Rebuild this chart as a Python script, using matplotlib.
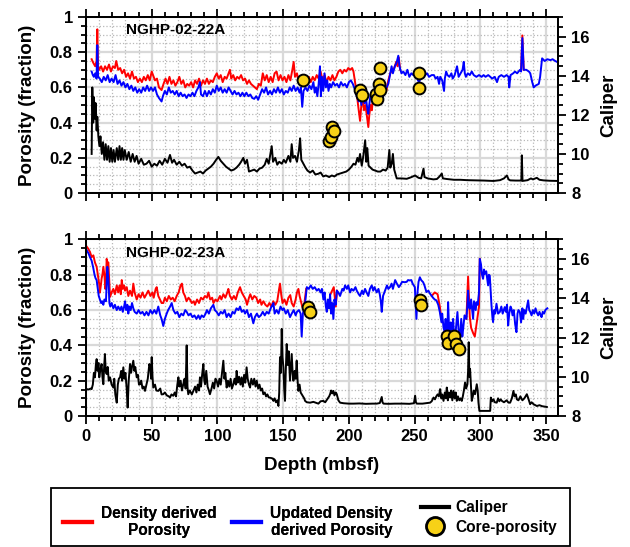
import numpy as np
import matplotlib
matplotlib.use('Agg')
from matplotlib import pyplot as plt
from matplotlib.ticker import MultipleLocator, FuncFormatter
from matplotlib.lines import Line2D
from matplotlib.patches import Rectangle

plt.rcParams['font.family'] = ['Liberation Sans', 'DejaVu Sans']
plt.rcParams['font.weight'] = 'bold'
plt.rcParams['axes.labelweight'] = 'bold'

nan = np.nan

# ---------------- NGHP-02-22A : (depth mbsf, value) ----------------
den_22 = [(4.3, 0.76), (5.5, 0.74), (7, 0.72), (8, 0.75), (8.6, 0.93), (9.2, 0.72), (10, 0.70),
          (11.5, 0.72), (13, 0.69), (14.5, 0.72), (16, 0.70), (17.5, 0.73), (19, 0.69), (20.5, 0.72),
          (22, 0.71), (23, 0.75), (24.5, 0.70), (26, 0.71), (27.5, 0.68), (29, 0.70), (30.5, 0.66),
          (32, 0.68), (33.5, 0.65), (35, 0.69), (36.5, 0.65), (38, 0.66), (39.5, 0.63), (41, 0.65),
          (42.5, 0.63), (44, 0.66), (45.5, 0.64), (47, 0.67), (48.5, 0.64), (50, 0.69), (51, 0.67),
          (52.5, 0.64), (54, 0.65), (55.5, 0.60), (57.5, 0.585), (59, 0.62), (60.5, 0.65), (62, 0.62),
          (63.5, 0.66), (65, 0.62), (66.5, 0.64), (68, 0.61), (69.5, 0.63), (71, 0.66), (72.5, 0.62),
          (74, 0.64), (75.5, 0.60), (77, 0.62), (78.5, 0.61), (80, 0.63), (81.5, 0.60), (83, 0.64),
          (84.5, 0.62), (86, 0.65), (87.5, 0.61), (89, 0.64), (90.5, 0.62), (92, 0.65), (93.5, 0.62),
          (95, 0.64), (96.5, 0.63), (98, 0.66), (99.5, 0.68), (101, 0.65), (102.5, 0.67), (104, 0.63),
          (105.5, 0.66), (107, 0.65), (108.5, 0.68), (109.5, 0.70), (110.5, 0.65), (112, 0.67),
          (113.5, 0.64), (115, 0.66), (116.5, 0.65), (118, 0.67), (119.5, 0.64), (121, 0.65),
          (122.5, 0.62), (124, 0.64), (125.5, 0.62), (127, 0.61), (128.5, 0.60), (130, 0.59),
          (131.5, 0.62), (133, 0.61), (134.5, 0.68), (136, 0.64), (137.5, 0.67), (139, 0.63),
          (140.5, 0.66), (142, 0.63), (143.5, 0.68), (145, 0.69), (146.5, 0.64), (148, 0.67),
          (149.5, 0.64), (151, 0.66), (152.5, 0.63), (154, 0.67), (155.5, 0.64), (157, 0.70),
          (158, 0.745), (159, 0.66), (160.5, 0.68), (162, 0.63), (163.5, 0.66), (165, 0.62),
          (166.5, 0.67), (168, 0.64), (169.5, 0.66), (171, 0.63), (172.5, 0.66), (174, 0.64),
          (175.5, 0.67), (177, 0.65), (178.5, 0.69), (180, 0.64), (181.5, 0.67), (183, 0.63),
          (184.5, 0.66), (186, 0.64), (187.5, 0.67), (189, 0.64), (190.5, 0.66), (192, 0.69),
          (193.5, 0.70), (195, 0.68), (196.5, 0.70), (198, 0.69), (199.5, 0.71), (201, 0.70),
          (202.5, 0.71), (203.5, 0.69), (204.5, 0.64), (206, 0.565), (207, 0.50), (208.5, 0.41),
          (209.5, 0.50), (210.5, 0.53), (211.5, 0.47), (212.5, 0.50), (213.5, 0.45), (214.8, 0.375),
          (215.5, 0.44), (216.5, 0.50), (217.5, 0.47), (218.5, 0.56), (219.5, 0.58), (221, 0.57),
          (222, 0.60), (223, 0.55), (224, 0.58), (225, 0.52), (226, 0.56), (227, 0.60), (228.5, 0.58),
          (230, 0.64), (231.5, 0.68), (233, 0.70), (234.5, 0.71), (236, 0.745), (237, 0.72),
          (238, 0.77), (239, 0.70), (240, nan), (331, 0.70), (332, 0.895), (333, 0.70)]

upd_22 = [(4.3, 0.69), (5.2, 0.67), (6, 0.66), (7, 0.68), (8, 0.65), (8.6, 0.84), (9.2, 0.66),
          (10.5, 0.65), (12, 0.63), (13.5, 0.66), (15, 0.64), (16.5, 0.67), (18, 0.63), (19.5, 0.65),
          (21, 0.63), (22.5, 0.67), (24, 0.62), (25.5, 0.64), (27, 0.61), (28.5, 0.63), (30, 0.60),
          (31.5, 0.62), (33, 0.59), (34.5, 0.61), (36, 0.58), (37.5, 0.60), (39, 0.57), (40.5, 0.59),
          (42, 0.57), (43.5, 0.60), (45, 0.58), (46.5, 0.61), (48, 0.58), (49.5, 0.60), (51, 0.58),
          (52.5, 0.60), (54, 0.56), (55.5, 0.54), (57.5, 0.52), (58.5, 0.55), (60, 0.58), (61.5, 0.56),
          (63, 0.60), (64.5, 0.57), (66, 0.58), (67.5, 0.56), (69, 0.58), (70.5, 0.55), (72, 0.57),
          (73.5, 0.55), (75, 0.56), (76.5, 0.54), (78, 0.56), (79.5, 0.55), (81, 0.57), (82.5, 0.55),
          (84, 0.58), (85.5, 0.60), (86.7, 0.63), (87.5, 0.56), (89, 0.55), (90.5, 0.58), (92, 0.55),
          (93.5, 0.58), (95, 0.56), (96.5, 0.59), (98, 0.57), (99.5, 0.61), (101, 0.58), (102.5, 0.60),
          (104, 0.57), (105.5, 0.59), (107, 0.57), (108.5, 0.60), (110, 0.58), (111.5, 0.56),
          (113, 0.58), (114.5, 0.56), (116, 0.57), (117.5, 0.55), (119, 0.57), (120.5, 0.55),
          (122, 0.57), (123.5, 0.55), (125, 0.56), (126.5, 0.54), (128, 0.535), (129.5, 0.55),
          (131, 0.53), (132.5, 0.56), (134, 0.59), (135.5, 0.57), (137, 0.60), (138.5, 0.56),
          (140, 0.58), (141.5, 0.56), (143, 0.59), (144.5, 0.57), (146, 0.60), (147.5, 0.57),
          (149, 0.59), (150.5, 0.56), (152, 0.58), (153.5, 0.57), (155, 0.60), (156.5, 0.58),
          (158, 0.61), (159.5, 0.58), (161, 0.60), (162.5, 0.57), (163.5, 0.60), (164.5, 0.49),
          (165.5, 0.58), (167, 0.60), (168.5, 0.58), (170, 0.61), (171.5, 0.59), (173, 0.63),
          (174, 0.57), (175, 0.60), (176, 0.55), (177, 0.62), (178, 0.72), (178.7, 0.55), (179.5, 0.66),
          (180.5, 0.58), (181.5, 0.68), (182.5, 0.60), (183.5, 0.64), (184.5, 0.58), (185.5, 0.62),
          (186.5, 0.60), (188, 0.63), (189.5, 0.61), (191, 0.62), (192.5, 0.60), (194, 0.63),
          (195.5, 0.61), (197, 0.62), (198.5, 0.60), (200, 0.63), (201.5, 0.64), (203, 0.62),
          (204.5, 0.59), (206, 0.55), (207.5, 0.52), (208.5, 0.55), (209.5, 0.50), (210.5, 0.56),
          (212, 0.51), (213, 0.54), (214, 0.48), (214.8, 0.45), (215.5, 0.50), (216.5, 0.56),
          (217.5, 0.53), (218.5, 0.57), (219.5, 0.54), (221, 0.58), (222, 0.55), (223, 0.59),
          (224, 0.53), (224.9, 0.51), (226, 0.55), (227, 0.58), (228.7, 0.60), (230, 0.62), (231, 0.66),
          (232.5, 0.72), (233.5, 0.68), (235, 0.72), (236.3, 0.74), (237.6, 0.78), (238.5, 0.72),
          (240, 0.68), (241.4, 0.69), (243, 0.67), (244.5, 0.70), (246, 0.66), (247.5, 0.68),
          (249, 0.67), (250.5, 0.70), (251.5, 0.69), (252.5, 0.64), (253.5, 0.63), (255, 0.67),
          (256.5, 0.66), (258, 0.67), (259.5, 0.68), (261, 0.66), (263, 0.67), (264.7, 0.67),
          (266, 0.65), (267.5, 0.66), (268.6, 0.62), (269.5, 0.66), (271, 0.64), (272.4, 0.58),
          (273, 0.65), (274, 0.69), (275, 0.67), (276.5, 0.66), (278, 0.68), (279, 0.65), (280.5, 0.67),
          (282.3, 0.72), (283.5, 0.66), (285, 0.68), (286.5, 0.70), (287.4, 0.745), (288.2, 0.68),
          (289, 0.66), (290.5, 0.68), (292, 0.67), (293.5, 0.69), (295, 0.67), (297, 0.66), (299, 0.67),
          (301, 0.66), (302.5, 0.67), (304, 0.66), (306, 0.67), (307.6, 0.66), (309, 0.65), (311, 0.66),
          (312.7, 0.63), (314, 0.66), (316, 0.67), (318, 0.66), (320, 0.67), (321.5, 0.66), (322, 0.60),
          (323, 0.67), (325, 0.68), (326.4, 0.69), (328, 0.68), (330.2, 0.70), (331, 0.69), (332, 0.88),
          (333, 0.70), (335, 0.70), (337, 0.69), (338, 0.68), (339.5, 0.63), (340.6, 0.60), (342, 0.61),
          (344.5, 0.62), (345.5, 0.66), (347, 0.765), (349, 0.75), (351, 0.76), (353.3, 0.755),
          (355, 0.76), (357, 0.75), (359.6, 0.74)]

cal_22 = [(4.3, 10.0), (4.8, 13.4), (5.5, 11.6), (6.0, 12.9), (6.8, 11.8), (7.3, 12.6), (8.1, 11.2),
          (8.6, 11.9), (9.4, 10.9), (10.2, 10.4), (11, 10.9), (12, 10.0), (13, 10.6), (14, 9.7),
          (15, 10.5), (16, 9.7), (17, 10.4), (18, 9.6), (19, 10.3), (20, 9.6), (21, 10.2), (22, 9.6),
          (23.4, 10.3), (24.5, 9.7), (25.5, 10.4), (26.5, 9.7), (27.5, 10.3), (28.5, 9.7), (29.5, 10.2),
          (31, 9.7), (32.5, 10.1), (34, 9.6), (35.5, 10.0), (37, 9.6), (38.5, 9.9), (40, 9.5),
          (42, 9.75), (44, 9.45), (46, 9.5), (48, 9.65), (50, 9.35), (52, 9.5), (54, 9.4), (56, 9.65),
          (58, 9.45), (60, 9.75), (62, 9.55), (63.9, 9.95), (65.5, 9.55), (67, 9.7), (69, 9.45),
          (71, 9.6), (73, 9.4), (75, 9.5), (77, 9.3), (79, 9.35), (81, 9.15), (83, 9.0), (85, 9.05),
          (87, 9.1), (89, 9.0), (91, 9.15), (93, 9.25), (95, 9.35), (97, 9.5), (99, 9.7), (100.7, 9.85),
          (102.5, 9.65), (104.5, 9.5), (106.5, 9.35), (108.5, 9.25), (110.5, 9.15), (112.5, 9.2),
          (114.5, 9.3), (116.5, 9.45), (118, 9.6), (119.7, 9.8), (121, 9.5), (122.5, 9.7), (124, 9.1),
          (126, 9.15), (128, 9.2), (130, 9.1), (132, 9.25), (134, 9.3), (136, 9.45), (137.5, 9.75),
          (139, 9.5), (140.3, 10.0), (141.3, 10.4), (142.3, 9.6), (144, 9.8), (145.5, 9.45),
          (147, 9.6), (149, 9.5), (150.5, 9.7), (152, 9.55), (154, 9.9), (155.5, 9.6), (156.5, 10.5),
          (157.5, 9.8), (159, 9.9), (160.5, 9.6), (162, 10.2), (162.9, 10.8), (163.8, 9.7),
          (165.4, 9.5), (167, 9.3), (168.5, 9.15), (170.5, 9.05), (172.5, 9.15), (174.5, 8.95),
          (176.8, 8.99), (178.5, 9.05), (180.5, 8.85), (182.5, 8.9), (185, 8.82), (187, 8.9),
          (189, 8.85), (191, 8.95), (193.3, 9.0), (195.5, 9.05), (198, 9.1), (200, 9.2), (202, 9.35),
          (203.5, 9.5), (205, 9.45), (206.5, 9.8), (207.5, 9.6), (208.5, 10.0), (209.8, 9.4),
          (211, 9.9), (212.4, 10.7), (213.2, 9.6), (214, 10.3), (215, 9.4), (216.5, 9.3), (218, 9.2),
          (220, 9.15), (222, 9.1), (224, 9.1), (226, 9.2), (228, 9.15), (229.5, 9.3), (230.8, 10.2),
          (231.5, 9.3), (232.6, 9.5), (233.5, 10.0), (234.5, 9.2), (236.4, 8.75), (240, 8.75),
          (244, 8.73), (247, 8.8), (250.4, 8.9), (253, 8.78), (255, 8.75), (256.8, 9.25), (257.5, 8.82),
          (260, 8.75), (264.3, 8.7), (267, 8.72), (269, 8.85), (270.7, 9.0), (271.5, 8.75),
          (274.5, 8.72), (280, 8.68), (284.7, 8.68), (290, 8.66), (297.4, 8.65), (303, 8.64),
          (310, 8.62), (315, 8.66), (318, 8.75), (320.2, 8.9), (321.5, 8.7), (322.7, 8.65), (327, 8.64),
          (331.2, 8.64), (331.6, 9.93), (332.1, 8.62), (336, 8.66), (338.5, 8.75), (340, 8.7),
          (343, 8.78), (345, 8.68), (348.1, 8.65), (353, 8.63), (359.6, 8.62)]

core_22 = [(164.9, 0.642), (184.9, 0.294), (186.2, 0.319), (187.5, 0.376), (188.8, 0.351),
           (208.5, 0.585), (209.8, 0.557), (220.4, 0.56), (221.5, 0.535), (223.0, 0.62),
           (223.7, 0.588), (223.7, 0.708), (253.0, 0.679), (253.0, 0.594)]

# ---------------- NGHP-02-23A : (depth mbsf, value) ----------------
den_23 = [(0.5, 0.96), (1.5, 0.95), (3, 0.93), (4.3, 0.90), (5.6, 0.91), (6.8, 0.87), (8.1, 0.845),
          (9, 0.80), (10, 0.75), (10.6, 0.70), (11.3, 0.74), (11.9, 0.78), (12.5, 0.80), (13.2, 0.845),
          (14, 0.80), (14.7, 0.72), (15.2, 0.74), (15.7, 0.89), (16.5, 0.86), (17, 0.87), (17.6, 0.78),
          (18.3, 0.675), (19.5, 0.70), (20.8, 0.72), (22, 0.69), (23.4, 0.74), (24.5, 0.70),
          (25.5, 0.74), (26.5, 0.69), (27.2, 0.77), (28, 0.72), (29, 0.74), (29.7, 0.71), (31, 0.73),
          (32.2, 0.68), (33.5, 0.71), (35, 0.68), (36, 0.75), (37, 0.70), (38.6, 0.66), (40, 0.69),
          (41.5, 0.67), (43, 0.70), (44.5, 0.67), (46, 0.69), (47.4, 0.71), (49, 0.68), (50.5, 0.70),
          (51.5, 0.67), (53, 0.72), (53.8, 0.73), (55, 0.68), (56.3, 0.66), (57.5, 0.64), (58.8, 0.64),
          (60, 0.67), (61.5, 0.65), (63, 0.68), (64.5, 0.66), (66, 0.67), (67.5, 0.65), (69, 0.68),
          (70.5, 0.70), (72, 0.74), (73, 0.75), (74, 0.70), (75.3, 0.68), (76.5, 0.65), (78, 0.67),
          (79.1, 0.66), (80.5, 0.64), (82, 0.65), (82.9, 0.63), (84.5, 0.66), (86, 0.64), (87.5, 0.67),
          (89, 0.66), (90.5, 0.68), (92, 0.67), (93.1, 0.70), (94.5, 0.66), (96, 0.67), (97, 0.64),
          (98.5, 0.66), (100, 0.65), (101.9, 0.68), (103, 0.66), (104.5, 0.69), (106, 0.67),
          (107.5, 0.70), (108.3, 0.72), (109.5, 0.68), (111, 0.66), (112.5, 0.68), (114, 0.66),
          (115.5, 0.70), (117.2, 0.73), (118.5, 0.70), (120, 0.68), (121.5, 0.66), (122.5, 0.63),
          (124, 0.67), (125, 0.69), (126.5, 0.66), (128, 0.68), (129.6, 0.67), (131, 0.64),
          (132.5, 0.66), (133.5, 0.63), (135, 0.65), (136.5, 0.63), (138, 0.62), (139.5, 0.64),
          (141, 0.62), (142.5, 0.65), (144, 0.63), (145.5, 0.65), (146.5, 0.70), (147.6, 0.75),
          (148.5, 0.69), (149.5, 0.64), (151, 0.66), (152.5, 0.63), (154, 0.67), (155.4, 0.685),
          (156.5, 0.64), (158, 0.62), (159.5, 0.66), (160.5, 0.70), (161.6, 0.72), (162.5, 0.68),
          (163.5, 0.65), (164.5, 0.62), (165.7, 0.60), (166.5, 0.66), (167.5, 0.72), (168.5, nan),
          (186, 0.69), (188.5, 0.73), (190, 0.62), (191, 0.71), (192, nan),
          (263, 0.68), (265.3, 0.70), (267.5, 0.69), (269.2, 0.62), (270.4, 0.55), (271, nan),
          (289.4, 0.55), (290.7, 0.79), (292, 0.56), (293, 0.50), (294.5, 0.47), (295.8, 0.45),
          (297.1, 0.52), (299, 0.62), (299.6, 0.89)]

upd_23 = [(0.5, 0.94), (2, 0.92), (3, 0.90), (4.3, 0.88), (5.5, 0.84), (6.5, 0.80), (7.3, 0.78),
          (8.1, 0.77), (9, 0.72), (9.7, 0.68), (10.6, 0.66), (11.5, 0.64), (12.3, 0.65), (13.2, 0.63),
          (14, 0.66), (15.2, 0.65), (16.2, 0.845), (17, 0.78), (17.8, 0.64), (18.5, 0.62), (19.5, 0.64),
          (20.8, 0.61), (22, 0.63), (23.4, 0.60), (24.5, 0.62), (25.9, 0.60), (27, 0.62), (28, 0.59),
          (29, 0.62), (29.7, 0.65), (30.5, 0.60), (31.5, 0.63), (32.2, 0.58), (33, 0.62), (34, 0.60),
          (35, 0.64), (36, 0.61), (37, 0.59), (38.6, 0.58), (40, 0.60), (41.5, 0.58), (43, 0.59),
          (44.5, 0.57), (46, 0.59), (47.5, 0.57), (49, 0.60), (50.5, 0.58), (52, 0.60), (53.5, 0.58),
          (55, 0.62), (56.5, 0.57), (57.5, 0.55), (58.8, 0.51), (60, 0.55), (61.4, 0.58), (62.5, 0.60),
          (64, 0.62), (65.2, 0.64), (66.5, 0.60), (68, 0.58), (69.5, 0.59), (71, 0.56), (72.5, 0.58),
          (74, 0.57), (75.5, 0.60), (76.6, 0.59), (78, 0.57), (79.5, 0.58), (81, 0.56), (82.5, 0.57),
          (84, 0.55), (85.5, 0.57), (86.7, 0.55), (88, 0.57), (89.5, 0.56), (91, 0.58), (92, 0.60),
          (93.5, 0.58), (95, 0.61), (96.9, 0.63), (98, 0.60), (99.4, 0.59), (101, 0.57), (102.5, 0.59),
          (104, 0.58), (105.5, 0.60), (107, 0.56), (108.5, 0.58), (110, 0.56), (111.5, 0.59),
          (113, 0.58), (114.5, 0.61), (116, 0.60), (117.2, 0.62), (118.5, 0.59), (120, 0.60),
          (121, 0.58), (122.5, 0.60), (124, 0.56), (125.5, 0.58), (127.3, 0.525), (128.5, 0.56),
          (130, 0.58), (131.5, 0.56), (133, 0.57), (134.5, 0.59), (136, 0.57), (137.5, 0.59),
          (139, 0.58), (140.5, 0.61), (142, 0.63), (142.6, 0.64), (143.5, 0.58), (145, 0.60),
          (146.5, 0.58), (148, 0.62), (149.5, 0.60), (150.5, 0.61), (152, 0.58), (153.5, 0.60),
          (155.2, 0.56), (156.5, 0.58), (158, 0.60), (159.5, 0.57), (160.5, 0.59), (162, 0.60),
          (163.3, 0.58), (164.1, 0.45), (165, 0.58), (166, 0.61), (167, 0.66), (168, 0.73),
          (169.5, 0.72), (171, 0.74), (172.5, 0.72), (174, 0.73), (175.6, 0.71), (177, 0.72),
          (178.5, 0.70), (179.5, 0.72), (180.6, 0.66), (181.5, 0.70), (182.5, 0.62), (183.2, 0.59),
          (184, 0.66), (185, 0.61), (185.7, 0.69), (186.5, 0.58), (187.3, 0.64), (188.2, 0.55),
          (189, 0.66), (190, 0.63), (190.8, 0.71), (192, 0.70), (193.3, 0.68), (195, 0.72),
          (196, 0.71), (197.1, 0.74), (198.5, 0.72), (199.5, 0.74), (200.9, 0.70), (202, 0.72),
          (203.5, 0.71), (205, 0.73), (206, 0.71), (207.5, 0.69), (208.5, 0.68), (210, 0.71),
          (211, 0.69), (212.3, 0.72), (213.5, 0.70), (214.8, 0.68), (216, 0.72), (217.4, 0.74),
          (218.5, 0.71), (219.5, 0.73), (221.2, 0.70), (222.5, 0.72), (223.5, 0.69), (224.3, 0.65),
          (225, 0.59), (226, 0.68), (227.5, 0.71), (229, 0.74), (230, 0.72), (231.3, 0.73),
          (232.5, 0.75), (233.5, 0.72), (235.2, 0.77), (236.5, 0.75), (238, 0.73), (239, 0.74),
          (240.5, 0.76), (242.5, 0.758), (244, 0.76), (245, 0.77), (246.3, 0.768), (247.5, 0.77),
          (248.5, 0.75), (250.2, 0.73), (251.4, 0.55), (252.2, 0.70), (253, 0.76), (254, 0.786),
          (255, 0.77), (256.5, 0.758), (257.5, 0.74), (259, 0.702), (260.5, 0.71), (262, 0.69),
          (262.8, 0.683), (264, 0.67), (265.3, 0.66), (266.6, 0.655), (268, 0.63), (269.2, 0.589),
          (270.4, 0.532), (271, 0.58), (272, 0.50), (273, 0.475), (273.6, 0.55), (274.2, 0.40),
          (275, 0.50), (275.5, 0.645), (276.2, 0.50), (276.8, 0.437), (277.5, 0.53), (278.5, 0.47),
          (279.3, 0.55), (280, 0.46), (280.6, 0.40), (281.5, 0.50), (282.6, 0.589), (283.5, 0.48),
          (284.4, 0.437), (285.5, 0.55), (286.3, 0.45), (286.9, 0.49), (288, 0.57), (289.4, 0.55),
          (290.2, 0.63), (290.7, 0.71), (291.3, 0.62), (292.0, 0.607), (293, 0.66), (294.5, 0.55),
          (295.2, 0.65), (295.8, 0.626), (296.5, 0.60), (297.1, 0.645), (298, 0.63), (299, 0.70),
          (299.6, 0.89), (300.5, 0.86), (301.3, 0.80), (302.1, 0.777), (302.8, 0.83), (303.4, 0.805),
          (304.5, 0.82), (305.9, 0.74), (306.5, 0.80), (307.2, 0.795), (307.8, 0.72), (308.5, 0.626),
          (309.2, 0.56), (309.7, 0.532), (310.5, 0.60), (311.3, 0.58), (312.3, 0.636), (313.5, 0.58),
          (314.8, 0.589), (316, 0.62), (317, 0.58), (318.6, 0.617), (319.5, 0.59), (320.3, 0.63),
          (321.2, 0.513), (322, 0.58), (323, 0.62), (323.7, 0.607), (324.5, 0.57), (325.5, 0.60),
          (326.5, 0.52), (327.5, 0.475), (328.3, 0.58), (329, 0.60), (330.1, 0.589), (331, 0.53),
          (332, 0.61), (332.6, 0.55), (333.5, 0.60), (334.5, 0.58), (335.5, 0.62), (336.4, 0.655),
          (337.2, 0.60), (338, 0.59), (339, 0.57), (340, 0.60), (341, 0.58), (342, 0.61),
          (342.8, 0.589), (344, 0.57), (345, 0.59), (346, 0.57), (346.6, 0.56), (347.5, 0.59),
          (348.5, 0.58), (349.5, 0.60), (350.4, 0.607), (351, 0.61)]

cal_23 = [(0.5, 9.37), (2, 9.35), (3.5, 9.4), (4.3, 9.37), (5.2, 9.6), (6, 10.2), (6.8, 9.97),
          (7.5, 10.6), (8.1, 10.9), (8.8, 10.3), (9.5, 10.7), (10.1, 9.97), (11, 10.4), (11.9, 10.65),
          (12.5, 10.0), (13.2, 9.62), (13.8, 10.5), (14.4, 11.16), (15, 10.3), (15.7, 10.14),
          (16.5, 10.5), (17.3, 9.8), (18.3, 9.97), (19.5, 9.6), (20.8, 9.45), (21.5, 9.9), (22.3, 9.1),
          (23.4, 8.68), (24.2, 9.6), (25, 9.9), (25.9, 9.97), (26.8, 10.3), (27.5, 9.8), (28.4, 10.48),
          (29.2, 9.9), (30, 10.2), (30.9, 9.45), (31.7, 8.43), (32.5, 9.8), (33.5, 10.65), (34.3, 10.2),
          (35, 10.5), (36, 10.82), (36.8, 10.3), (37.5, 10.5), (38.6, 9.97), (39.5, 10.1), (40.3, 9.6),
          (41.1, 9.62), (42, 9.8), (43, 9.4), (44, 9.5), (44.9, 9.28), (46, 9.6), (47, 9.9),
          (48.2, 10.65), (49, 10.48), (49.5, 9.9), (50.0, 11.0), (50.6, 10.0), (51.2, 9.45),
          (52.5, 9.6), (53.5, 9.3), (55, 9.28), (56.5, 9.4), (57.5, 9.1), (58.8, 9.11), (60, 9.2),
          (61.5, 9.05), (63, 9.0), (63.9, 8.94), (65, 9.1), (66.4, 9.03), (67.5, 9.2), (68.5, 9.0),
          (69.5, 9.6), (70.3, 9.97), (71, 9.5), (72, 9.8), (73, 9.3), (74, 9.62), (75, 9.9),
          (75.8, 9.4), (76.6, 11.6), (77.2, 9.5), (77.8, 9.11), (79, 9.3), (80.5, 9.1), (81.7, 9.28),
          (83, 9.5), (84, 9.2), (85, 9.6), (86, 9.3), (86.7, 9.97), (87.5, 9.5), (88.5, 10.2),
          (89.3, 10.65), (90, 9.8), (90.6, 9.62), (91.5, 10.3), (92.5, 9.5), (93.5, 9.3), (94.3, 9.11),
          (95.5, 9.4), (96.5, 9.7), (97.5, 9.4), (98.5, 9.9), (99.4, 9.8), (100.5, 9.5), (101.5, 9.9),
          (102.5, 9.6), (103.5, 10.2), (104.5, 10.82), (105.3, 9.9), (106, 10.2), (107, 9.45),
          (108, 9.8), (109, 9.5), (110, 9.9), (111, 9.4), (112.1, 9.62), (113, 9.9), (114, 9.6),
          (114.6, 10.3), (115.5, 9.7), (116.5, 10.0), (117.5, 9.6), (118.4, 9.97), (119.3, 9.5),
          (120.3, 10.1), (121.2, 9.7), (122.2, 10.48), (123, 9.9), (124, 9.6), (124.8, 9.45),
          (125.8, 9.9), (127, 9.6), (128, 9.9), (129, 9.5), (129.9, 9.8), (131, 9.4), (132, 9.6),
          (133, 9.3), (134, 9.4), (134.9, 9.11), (136, 9.2), (137, 9.0), (138, 9.1), (139, 8.95),
          (140, 8.94), (141, 8.9), (142, 8.85), (142.6, 8.77), (143.5, 8.9), (144.5, 8.7),
          (145.5, 8.8), (146.4, 8.51), (147, 9.2), (147.6, 11.0), (148.3, 10.2), (148.9, 12.44),
          (149.5, 11.0), (150.2, 10.48), (150.8, 9.4), (151.4, 8.77), (152, 10.3), (152.7, 11.67),
          (153.4, 10.6), (154.2, 11.3), (155.2, 9.8), (156, 10.6), (156.5, 11.16), (157.2, 10.2),
          (157.8, 9.8), (158.7, 10.3), (159.5, 9.9), (160.3, 10.82), (161, 9.8), (161.6, 9.28),
          (162.5, 9.6), (163.3, 9.2), (164.1, 9.11), (165, 9.0), (166, 8.9), (166.7, 8.77),
          (168, 8.7), (170.5, 8.68), (173, 8.72), (176.8, 8.63), (178.5, 8.75), (180.6, 8.77),
          (182, 8.7), (183.5, 8.85), (185, 9.0), (185.7, 9.11), (186.5, 9.3), (187.3, 9.15),
          (188.2, 9.28), (189, 9.05), (190, 9.2), (190.8, 9.11), (192, 8.8), (193.3, 8.68),
          (196, 8.65), (200, 8.63), (203.5, 8.63), (208, 8.64), (213, 8.62), (218, 8.63),
          (221.2, 8.63), (223.5, 8.66), (225.0, 8.97), (225.6, 8.7), (226.3, 8.63), (230, 8.62),
          (235, 8.63), (241.5, 8.63), (246, 8.62), (249.5, 8.65), (250.4, 9.03), (251, 8.7),
          (251.7, 8.63), (256, 8.63), (261.8, 8.68), (263, 8.75), (264.4, 8.94), (265.5, 8.85),
          (266.5, 9.0), (267.5, 9.1), (268.5, 9.0), (269.4, 9.37), (270.3, 8.9), (271, 9.1),
          (272.0, 8.77), (273, 9.2), (273.8, 8.9), (274.5, 9.45), (275.3, 8.8), (276, 9.2),
          (277.0, 8.94), (277.8, 9.3), (278.7, 8.8), (279.6, 9.28), (280.5, 8.9), (281.3, 9.2),
          (282.1, 8.77), (283, 9.0), (284, 8.8), (285, 8.9), (285.9, 8.77), (286.7, 9.0), (287.5, 9.3),
          (288.4, 9.71), (289.2, 9.4), (290.2, 9.62), (290.7, 10.3), (291.2, 11.76), (291.7, 10.0),
          (292.2, 10.4), (292.8, 9.6), (293.5, 8.77), (294.3, 9.0), (295, 9.3), (296.0, 9.11),
          (296.7, 9.4), (297.3, 9.62), (298, 9.3), (298.6, 8.68), (299.3, 8.26), (303, 8.26),
          (307.5, 8.26), (308.0, 8.94), (309, 8.75), (310, 8.85), (311, 8.7), (312.5, 8.68),
          (313.5, 8.9), (314.5, 8.75), (315.5, 8.85), (316.4, 8.77), (318, 8.7), (320, 8.8),
          (321.5, 8.68), (322.7, 8.68), (324, 8.9), (325.2, 9.28), (326, 9.0), (327, 9.1),
          (327.8, 8.85), (329, 8.8), (330.5, 9.0), (332, 8.8), (333.5, 8.9), (335.4, 9.11),
          (336.5, 8.9), (337.9, 8.6), (339, 8.7), (340.5, 8.6), (343.0, 8.51), (345, 8.55),
          (347, 8.5), (350.6, 8.46)]

core_23 = [(169.2, 0.617), (170.5, 0.589), (253.9, 0.655), (255.2, 0.626), (274.5, 0.453),
           (275.7, 0.411), (280.3, 0.453), (281.3, 0.407), (284.1, 0.379)]

wells = [('NGHP-02-22A', den_22, upd_22, cal_22, core_22),
         ('NGHP-02-23A', den_23, upd_23, cal_23, core_23)]

fig = plt.figure(figsize=(6.3, 5.47), dpi=100)
ax_top = fig.add_axes([0.1365, 0.647, 0.749, 0.322])
ax_bot = fig.add_axes([0.1365, 0.2395, 0.749, 0.3227])

yfmt = FuncFormatter(lambda v, p: '%g' % round(v, 2))
yellow = '#f7d117'

for ax, (name, den, upd, cal, core), last in zip([ax_top, ax_bot], wells, [False, True]):
    d, v = zip(*den)
    ax.plot(d, v, color='#ff0000', lw=1.4, zorder=3)
    d, v = zip(*upd)
    ax.plot(d, v, color='#0000ff', lw=1.4, zorder=4)
    d, v = zip(*core)
    ax.plot(d, v, 'o', ms=8.5, mfc=yellow, mec='black', mew=1.4, zorder=6)
    ax.set_xlim(0, 359)
    ax.set_ylim(0, 1)
    ax.xaxis.set_major_locator(MultipleLocator(50))
    ax.xaxis.set_minor_locator(MultipleLocator(10))
    ax.yaxis.set_major_locator(MultipleLocator(0.2))
    ax.yaxis.set_minor_locator(MultipleLocator(0.05))
    ax.yaxis.set_major_formatter(yfmt)
    ax.grid(which='major', color='#d9d9d9', lw=1.6)
    ax.grid(which='minor', color='#b8b8b8', ls=':', lw=0.9)
    ax.set_axisbelow(True)
    ax.tick_params(which='both', direction='out', top=True, width=1.3, labelsize=12)
    ax.tick_params(which='major', length=6)
    ax.tick_params(which='minor', length=3.5)
    if not last:
        ax.tick_params(labelbottom=False)
    for s in ax.spines.values():
        s.set_linewidth(1.4)
    ax.set_ylabel('Porosity (fraction)', fontsize=13.5, labelpad=10)
    ax.text(0.19, 0.925, name, transform=ax.transAxes, fontsize=11,
            ha='center', va='center', zorder=7)

    axc = ax.twinx()
    d, v = zip(*cal)
    axc.plot(d, v, color='black', lw=1.4)
    axc.set_ylim(8, 17)
    axc.yaxis.set_major_locator(MultipleLocator(2))
    axc.yaxis.set_minor_locator(MultipleLocator(0.5))
    axc.tick_params(which='both', direction='out', width=1.3, labelsize=12)
    axc.tick_params(which='major', length=6)
    axc.tick_params(which='minor', length=3.5)
    for s in axc.spines.values():
        s.set_linewidth(1.4)
    axc.set_ylabel('Caliper', fontsize=13.5, labelpad=8)
    for a in (ax, axc):
        for lab in a.get_xticklabels() + a.get_yticklabels():
            lab.set_fontweight('bold')

ax_bot.set_xlabel('Depth (mbsf)', fontsize=13.5, labelpad=9)

# legend
h_red = Line2D([], [], color='#ff0000', lw=3)
h_blue = Line2D([], [], color='#0000ff', lw=3)
h_cal = Line2D([], [], color='black', lw=3)
h_core = Line2D([], [], ls='', marker='o', ms=13, mfc=yellow, mec='black', mew=2)

leg1 = fig.legend([h_red, h_blue], ['Density derived\nPorosity', 'Updated Density\nderived Porosity'],
                  loc='center left', bbox_to_anchor=(0.1, 0.046), ncol=2, frameon=False,
                  fontsize=11.2, handlelength=1.85, handletextpad=0.6, columnspacing=1.0,
                  borderpad=0, borderaxespad=0)
for t in leg1.get_texts():
    t.set_multialignment('center')
leg2 = fig.legend([h_cal, h_core], ['Caliper', 'Core-porosity'],
                  loc='center left', bbox_to_anchor=(0.668, 0.054), frameon=False,
                  fontsize=11.2, handlelength=1.8, handletextpad=0.45, labelspacing=0.3,
                  borderpad=0, borderaxespad=0)
fig.add_artist(leg1)
fig.add_artist(Rectangle((0.0805, 0.002), 0.824, 0.106, transform=fig.transFigure,
                         fill=False, lw=1.3, edgecolor='black'))

fig.savefig('out.png', dpi=100)
